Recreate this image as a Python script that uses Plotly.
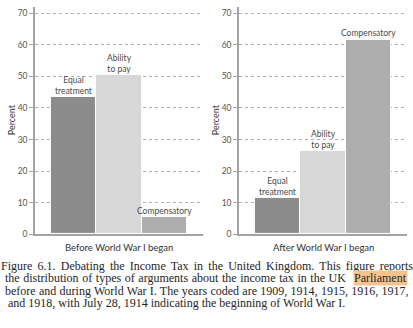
import plotly.graph_objects as go

# Argument types and their share of arguments (%)
categories = ["Equal treatment", "Ability to pay", "Compensatory"]
bar_labels = ["Equal<br>treatment", "Ability<br>to pay", "Compensatory"]
before_war = [43.6, 50.5, 5.6]
after_war = [11.5, 26.5, 61.7]
panel_titles = ["Before World War I began", "After World War I began"]
y_ticks = [0, 10, 20, 30, 40, 50, 60, 70]
caption_lines = [
    "Figure 6.1. Debating the Income Tax in the United Kingdom. This figure reports",
    "the distribution of types of arguments about the income tax in the UK",
    "before and during World War I. The years coded are 1909, 1914, 1915, 1916, 1917,",
    "and 1918, with July 28, 1914 indicating the beginning of World War I.",
]
# extra space between words to justify the caption lines (px), and the
# right edge each justified line is spread to
caption_word_spacing = [2.2, 0.6, 0.3, 0]
caption_right_edge = [408, 345, 408, None]
highlight_word = "Parliament"

W, H = 413, 328
bar_colors = ["#8c8c8c", "#d7d7d7", "#adadad"]
sans = "Lato, 'Open Sans', sans-serif"
serif = "'Liberation Serif', 'DejaVu Serif', serif"
axis_gray = "#a3a3a3"
text_gray = "#4a4a4a"
cap_size = 12


def px_x(p):
    return p / W


def px_y(p):
    return 1 - p / H


fig = go.Figure()

panels = [("x", "y", before_war), ("x2", "y2", after_war)]
for xa, ya, vals in panels:
    fig.add_trace(go.Bar(
        x=[0, 1, 2], y=vals, xaxis=xa, yaxis=ya,
        marker=dict(color=bar_colors, line=dict(color="white", width=1)),
        width=1.0, showlegend=False, hoverinfo="skip",
    ))
    for i, (lab, v) in enumerate(zip(bar_labels, vals)):
        fig.add_annotation(
            x=i, y=v, xref=xa, yref=ya, text=lab, showarrow=False,
            yanchor="bottom", yshift=-1,
            font=dict(family=sans, size=8.5, color=text_gray),
        )

x_domains = [(35, 203), (239, 407)]
y_dom = [px_y(238), px_y(7)]
pad = 16 / 45.3
axis_common = dict(
    range=[-0.5 - pad, 2.5 + pad], showticklabels=False, ticks="",
    showgrid=False, zeroline=False, showline=True, linecolor=axis_gray,
    linewidth=1.5, fixedrange=True,
)
yaxis_common = dict(
    range=[0, 72], tickvals=y_ticks, ticks="outside", ticklen=4,
    tickcolor=axis_gray, tickwidth=1,
    tickfont=dict(family=sans, size=8.5, color="#555555"),
    showgrid=True, gridcolor="#b0b0b0", griddash="dot", gridwidth=1,
    zeroline=False, showline=True, linecolor=axis_gray, linewidth=1.5,
    domain=y_dom, fixedrange=True, layer="below traces",
)

fig.update_layout(
    width=W, height=H,
    margin=dict(l=0, r=0, t=0, b=0),
    paper_bgcolor="white", plot_bgcolor="white",
    bargap=0,
    xaxis=dict(domain=[px_x(x_domains[0][0]), px_x(x_domains[0][1])],
               anchor="y", **axis_common),
    yaxis=dict(anchor="x", **yaxis_common),
    xaxis2=dict(domain=[px_x(x_domains[1][0]), px_x(x_domains[1][1])],
                anchor="y2", **axis_common),
    yaxis2=dict(anchor="x2", **yaxis_common),
)

# Panel titles below each axis and the y-axis titles
for (x0, x1), title, yt_x in zip(x_domains, panel_titles, [11, 215]):
    fig.add_annotation(
        x=px_x((x0 + x1) / 2), y=px_y(251), xref="paper", yref="paper",
        text=title, showarrow=False, xanchor="center", yanchor="middle",
        font=dict(family=sans, size=9.5, color="#333333"),
    )
    fig.add_annotation(
        x=px_x(yt_x), y=px_y(122), xref="paper", yref="paper",
        text="Percent", showarrow=False, textangle=-90,
        xanchor="center", yanchor="middle",
        font=dict(family=sans, size=9, color="#333333"),
    )

# Caption below the panels: justified lines are centred between their
# margins and widened with word spacing; the last line is set flush left.
cap_left, cap_right = 6, 408
line_y = [270, 282.5, 295, 307.5]
for txt, ly, ws, edge in zip(caption_lines, line_y, caption_word_spacing,
                             caption_right_edge):
    if edge is not None:
        fig.add_annotation(
            x=px_x((cap_left + edge) / 2), y=px_y(ly),
            xref="paper", yref="paper",
            text=f'<span style="word-spacing:{ws}px">{txt}</span>',
            showarrow=False, xanchor="center", yanchor="middle",
            font=dict(family=serif, size=cap_size, color="#262626"),
        )
    else:
        fig.add_annotation(
            x=px_x(cap_left), y=px_y(ly), xref="paper", yref="paper",
            text=txt, showarrow=False, xanchor="left", yanchor="middle",
            font=dict(family=serif, size=cap_size, color="#262626"),
        )
fig.add_annotation(
    x=px_x(cap_right), y=px_y(line_y[1]), xref="paper", yref="paper",
    text=highlight_word, showarrow=False, xanchor="right", yanchor="middle",
    bgcolor="#f7c38d", borderpad=0,
    font=dict(family=serif, size=cap_size, color="#262626"),
)

fig.write_html("out.html")
